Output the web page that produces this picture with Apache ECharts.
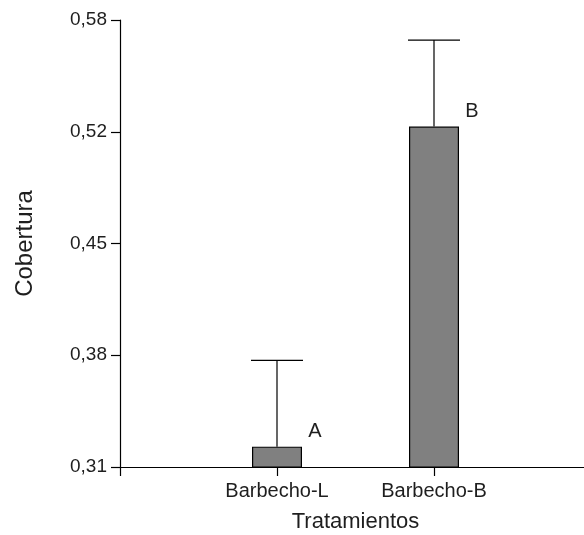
<!DOCTYPE html>
<html>
<head>
<meta charset="utf-8">
<script src="https://cdn.jsdelivr.net/npm/echarts@6/dist/echarts.min.js"></script>
<style>
html, body { margin: 0; padding: 0; background: #fff; }
#chart { width: 584px; height: 535px; }
</style>
</head>
<body>
<div id="chart"></div>
<script>
var categories = ['Barbecho-L', 'Barbecho-B'];
var positions = [1, 2];
var means = [0.3223, 0.5156];
var upper = [0.3744, 0.5679];
var letters = ['A', 'B'];
var yTicks = [0.31, 0.3775, 0.445, 0.5125, 0.58];
var yTickLabels = ['0,31', '0,38', '0,45', '0,52', '0,58'];

var barData = [], errData = [];
for (var i = 0; i < categories.length; i++) {
	barData.push([positions[i], means[i]]);
	errData.push([positions[i], means[i], upper[i]]);
}

var txt = '#1e1e1e';
var myChart = echarts.init(document.getElementById('chart'));

var option = {
	animation: false,
	grid: { left: 120, top: 20, width: 471, bottom: 68, outerBoundsMode: 'none', containLabel: false },
	xAxis: {
		type: 'value',
		min: 0,
		max: 3,
		interval: 1,
		name: 'Tratamientos',
		nameLocation: 'middle',
		nameGap: 44,
		nameTextStyle: { fontFamily: 'Liberation Sans', fontSize: 22, color: txt },
		axisLine: { lineStyle: { color: '#000', width: 1.2 } },
		axisTick: { show: true, inside: false, length: 9, lineStyle: { color: '#000', width: 1.2 } },
		axisLabel: {
			margin: 14,
			fontFamily: 'Liberation Sans',
			fontSize: 20,
			color: txt,
			formatter: function (v) {
				var k = positions.indexOf(v);
				return k >= 0 ? categories[k] : '';
			}
		},
		splitLine: { show: false }
	},
	yAxis: {
		type: 'value',
		min: 0.31,
		max: 0.58,
		name: 'Cobertura',
		nameLocation: 'middle',
		nameRotate: 90,
		nameGap: 83,
		nameTextStyle: { fontFamily: 'Liberation Sans', fontSize: 24, color: txt },
		axisLine: { show: true, lineStyle: { color: '#000', width: 1.2 } },
		axisTick: { show: true, length: 9, customValues: yTicks, lineStyle: { color: '#000', width: 1.2 } },
		axisLabel: {
			margin: 13,
			customValues: yTicks,
			fontFamily: 'Liberation Sans',
			fontSize: 19,
			color: txt,
			formatter: function (v) {
				for (var j = 0; j < yTicks.length; j++) {
					if (Math.abs(yTicks[j] - v) < 1e-6) return yTickLabels[j];
				}
				return '';
			}
		},
		splitLine: { show: false }
	},
	series: [{
		type: 'bar',
		data: barData,
		barWidth: 50,
		itemStyle: { color: '#808080', borderColor: '#000', borderWidth: 1.2 },
		label: {
			show: true,
			position: 'top',
			offset: [38, 0],
			fontFamily: 'Liberation Sans',
			fontSize: 20,
			color: txt,
			formatter: function (p) { return letters[p.dataIndex]; }
		}
	}, {
		type: 'custom',
		data: errData,
		renderItem: function (params, api) {
			var top = api.coord([api.value(0), api.value(2)]);
			var low = api.coord([api.value(0), api.value(1)]);
			var half = 26;
			var st = { stroke: '#000', lineWidth: 1.2 };
			return {
				type: 'group',
				children: [
					{ type: 'line', shape: { x1: top[0], y1: top[1], x2: low[0], y2: low[1] }, style: st },
					{ type: 'line', shape: { x1: top[0] - half, y1: top[1], x2: top[0] + half, y2: top[1] }, style: st }
				]
			};
		}
	}]
};
myChart.setOption(option);
</script>
</body>
</html>
